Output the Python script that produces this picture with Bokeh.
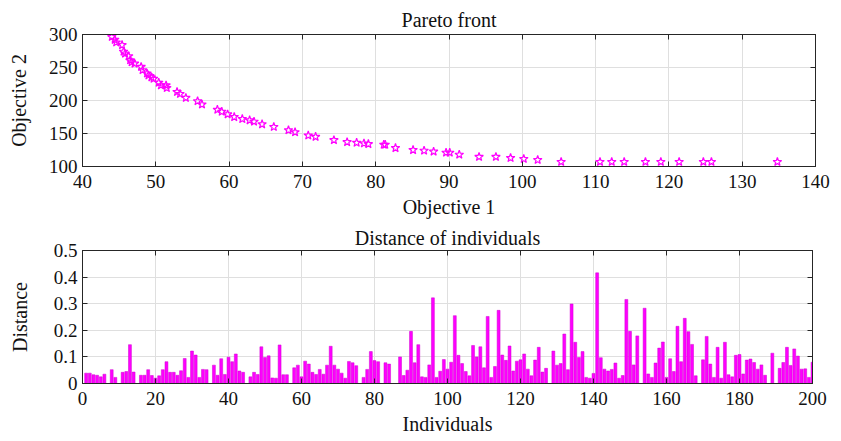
from bokeh.plotting import figure
from bokeh.layouts import column
from bokeh.models import (ColumnDataSource, FixedTicker, LinearAxis, Range1d,
                          CustomJSTickFormatter)
from bokeh.embed import file_html
from bokeh.resources import INLINE

# ---- data ----
obj1 = [44.0, 44.4, 44.6, 45.4, 45.6, 45.8, 46.3, 46.5, 46.7, 47.1, 48.0, 48.2,
        48.8, 49.0, 49.4, 49.7, 50.4, 50.7, 51.4, 51.5, 52.9, 53.3, 54.1, 55.7,
        56.3, 58.4, 59.0, 59.8, 60.7, 61.8, 62.8, 63.4, 64.5, 66.1, 68.1, 69.0,
        70.8, 71.8, 74.3, 76.1, 77.4, 78.4, 79.0, 81.1, 81.3, 82.7, 85.1, 86.6,
        87.9, 89.6, 90.1, 91.4, 94.1, 96.4, 98.4, 100.2, 102.1, 105.3, 110.6,
        112.2, 113.9, 116.8, 118.9, 121.4, 124.7, 125.8, 134.8]
obj2 = [296.4, 292, 288, 284, 274, 271, 267, 261, 258, 256, 251, 246,
        241, 238, 235, 233, 227, 223, 223, 219, 213, 210, 204, 199,
        194, 186, 183, 179, 175, 172, 170, 168, 164, 160, 155, 152,
        147, 145, 140, 137, 136, 135, 134, 133, 133, 128, 125, 124,
        122.6, 121, 121, 118, 114.6, 114.6, 113, 111.5, 110, 107, 107,
        107, 107, 107, 107, 107, 107, 107, 107]

individuals = list(range(1, 201))
distance = [
    0.039, 0.039, 0.033, 0.031, 0.025, 0.035, 0.0, 0.052, 0.023, 0.0,
    0.042, 0.045, 0.146, 0.043, 0.0, 0.031, 0.031, 0.052, 0.030, 0.020,
    0.029, 0.052, 0.082, 0.042, 0.042, 0.031, 0.048, 0.094, 0.023, 0.122,
    0.107, 0.023, 0.053, 0.052, 0.0, 0.069, 0.031, 0.093, 0.034, 0.099,
    0.082, 0.111, 0.047, 0.042, 0.0, 0.025, 0.042, 0.034, 0.138, 0.098,
    0.104, 0.021, 0.020, 0.145, 0.033, 0.033, 0.0, 0.059, 0.069, 0.025,
    0.084, 0.073, 0.042, 0.034, 0.053, 0.035, 0.069, 0.140, 0.069, 0.054,
    0.039, 0.020, 0.083, 0.078, 0.067, 0.0, 0.023, 0.053, 0.120, 0.086,
    0.082, 0.0, 0.078, 0.073, 0.0, 0.0, 0.100, 0.030, 0.050, 0.196,
    0.078, 0.146, 0.025, 0.023, 0.070, 0.322, 0.023, 0.046, 0.090, 0.054,
    0.080, 0.255, 0.106, 0.075, 0.045, 0.029, 0.143, 0.100, 0.138, 0.059,
    0.252, 0.023, 0.064, 0.275, 0.107, 0.087, 0.141, 0.047, 0.084, 0.089,
    0.111, 0.054, 0.029, 0.088, 0.136, 0.043, 0.057, 0.0, 0.122, 0.069,
    0.075, 0.186, 0.052, 0.299, 0.155, 0.098, 0.120, 0.023, 0.020, 0.038,
    0.416, 0.097, 0.054, 0.047, 0.053, 0.077, 0.020, 0.030, 0.316, 0.196,
    0.070, 0.179, 0.0, 0.283, 0.036, 0.023, 0.077, 0.133, 0.156, 0.023,
    0.093, 0.045, 0.215, 0.082, 0.245, 0.195, 0.147, 0.029, 0.0, 0.089,
    0.177, 0.073, 0.023, 0.136, 0.020, 0.155, 0.033, 0.025, 0.106, 0.109,
    0.036, 0.088, 0.092, 0.079, 0.054, 0.070, 0.031, 0.0, 0.114, 0.0,
    0.057, 0.079, 0.136, 0.068, 0.130, 0.103, 0.054, 0.055, 0.023, 0.080,
]

top_xticks = [40, 50, 60, 70, 80, 90, 100, 110, 120, 130, 140]
top_yticks = [100, 150, 200, 250, 300]
bot_xticks = [0, 20, 40, 60, 80, 100, 120, 140, 160, 180, 200]
bot_yticks = [0, 0.1, 0.2, 0.3, 0.4, 0.5]

FONT = "Liberation Serif"
AX = "#262626"
GRID = "#dfdfdf"
MAG = "#ff00ff"
TXT = "#111111"


def style(p, xt, yt, fmt=None):
    for ax in p.xaxis + p.yaxis:
        ax.major_label_text_font = FONT
        ax.major_label_text_font_size = "19px"
        ax.major_label_text_color = TXT
        ax.axis_label_text_font = FONT
        ax.axis_label_text_font_size = "20px"
        ax.axis_label_text_font_style = "normal"
        ax.axis_label_text_color = TXT
        ax.axis_line_color = AX
        ax.major_tick_line_color = AX
        ax.major_tick_in = 5
        ax.major_tick_out = 0
        ax.minor_tick_line_color = None
    p.xaxis.ticker = FixedTicker(ticks=xt)
    p.yaxis.ticker = FixedTicker(ticks=yt)
    if fmt is not None:
        p.yaxis.formatter = fmt
    p.xaxis.major_label_standoff = 8
    p.yaxis.major_label_standoff = 5
    p.xgrid.ticker = FixedTicker(ticks=xt)
    p.ygrid.ticker = FixedTicker(ticks=yt)
    p.grid.grid_line_color = GRID
    p.outline_line_color = AX
    # box-style extra axes (ticks only, no labels)
    blank = CustomJSTickFormatter(code='return "";')
    for loc, t in (("right", yt), ("above", xt)):
        a = LinearAxis(ticker=FixedTicker(ticks=t), formatter=blank,
                       axis_line_color=AX, major_tick_line_color=AX,
                       major_tick_in=5, major_tick_out=0,
                       minor_tick_line_color=None, major_label_standoff=0)
        p.add_layout(a, loc)
    p.title.text_font = FONT
    p.title.text_font_size = "20px"
    p.title.text_font_style = "normal"
    p.title.align = "center"
    p.title.text_color = TXT


# ---- top: Pareto front ----
p1 = figure(width=841, height=220, frame_width=733, frame_height=132,
            x_range=Range1d(40, 140), y_range=Range1d(100, 300),
            title="Pareto front", output_backend="svg", toolbar_location=None,
            min_border_left=81, min_border_right=27, min_border_top=34,
            min_border_bottom=54)
src1 = ColumnDataSource(dict(x=obj1, y=obj2))
p1.scatter("x", "y", source=src1, marker="star", size=9, line_color=MAG,
           fill_color=None, line_width=1.2)
p1.xaxis.axis_label = "Objective 1"
p1.yaxis.axis_label = "Objective 2"
style(p1, top_xticks, top_yticks)
p1.xaxis[0].axis_label_standoff = 1
p1.yaxis[0].axis_label_standoff = 16
p1.title.standoff = 7

# ---- bottom: distance ----
p2 = figure(width=841, height=221, frame_width=730, frame_height=133,
            x_range=Range1d(0, 200), y_range=Range1d(0, 0.5),
            title="Distance of individuals", output_backend="svg",
            toolbar_location=None,
            min_border_left=82, min_border_right=29, min_border_top=30,
            min_border_bottom=58)
src2 = ColumnDataSource(dict(x=individuals, top=distance))
p2.vbar(x="x", top="top", width=0.8, source=src2, fill_color=MAG,
        line_color="#d000d0", line_width=0.5)
p2.xaxis.axis_label = "Individuals"
p2.yaxis.axis_label = "Distance"
fmt = CustomJSTickFormatter(code="return String(Number(tick.toFixed(1)));")
style(p2, bot_xticks, bot_yticks, fmt)
p2.xaxis[0].axis_label_standoff = 3
p2.yaxis[0].axis_label_standoff = 20
p2.title.standoff = 4

layout = column(p1, p2, spacing=0)
open("out.html", "w").write(file_html(layout, INLINE))
